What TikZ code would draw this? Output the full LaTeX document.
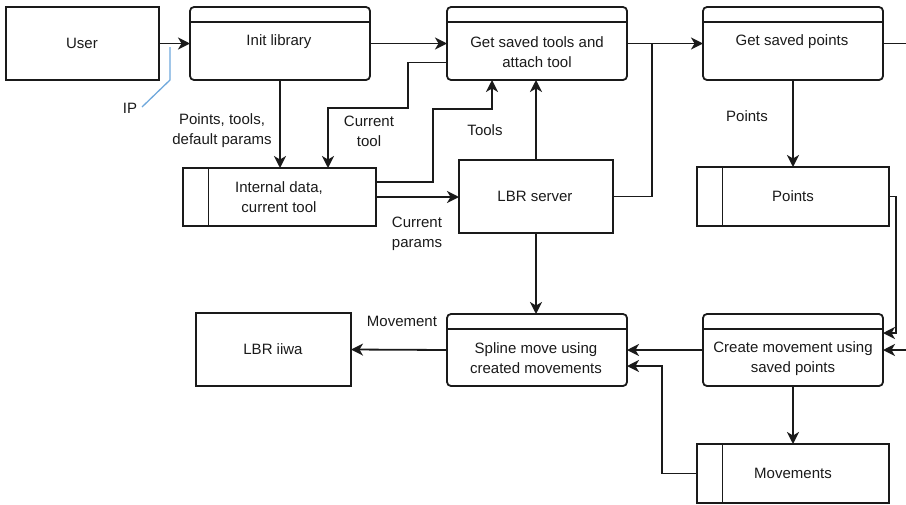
\documentclass[tikz,border=0pt]{standalone}
\usepackage{fontspec}
\setmainfont{Liberation Sans}
\usetikzlibrary{arrows.meta}
\definecolor{ink}{HTML}{1A1A1A}
\definecolor{ipblue}{HTML}{6FA8DC}
\begin{document}
\begin{tikzpicture}[x=1pt,y=-1pt,
  font=\fontsize{15}{20}\selectfont,
  every node/.style={text=ink},
  boxbase/.style={draw=ink,line width=1.8pt,inner sep=0pt,outer sep=0pt,anchor=north west},
  plainbox/.style={boxbase,rectangle},
  hdrbox/.style={boxbase,rounded corners=4pt},
  databox/.style={boxbase,rectangle},
  txt/.style={align=center,inner sep=0pt},
  wire/.style={draw=ink,line width=1.8pt},
  arr/.style={wire,-{Stealth[length=12pt,width=12pt,inset=3.5pt]}},
  ipline/.style={draw=ipblue,line width=1.3pt}]
\path[use as bounding box] (0,0) rectangle (906,504);

% boxes
\node[plainbox,minimum width=153pt,minimum height=73pt] (user) at (6,7) {};
\node[hdrbox,minimum width=180pt,minimum height=73pt] (init) at (190,7) {};
\node[hdrbox,minimum width=180pt,minimum height=73pt] (tools) at (447,7) {};
\node[hdrbox,minimum width=180pt,minimum height=73pt] (gsp) at (703,7) {};
\node[databox,minimum width=193pt,minimum height=58pt] (intdata) at (183,168) {};
\node[plainbox,minimum width=154pt,minimum height=73pt] (server) at (459,160) {};
\node[databox,minimum width=192pt,minimum height=59pt] (points) at (697,167) {};
\node[plainbox,minimum width=155pt,minimum height=73pt] (iiwa) at (196,313) {};
\node[hdrbox,minimum width=180pt,minimum height=72pt] (spline) at (447,314) {};
\node[hdrbox,minimum width=180pt,minimum height=72pt] (create) at (703,314) {};
\node[databox,minimum width=192pt,minimum height=59pt] (movs) at (697,444) {};

% header lines of the process boxes
\foreach \b in {init,tools,gsp,spline,create}
  \draw[draw=ink,line width=1.2pt] ([yshift=-15pt]\b.north west) -- ([yshift=-15pt]\b.north east);
% side bars of the data stores
\foreach \b in {intdata,points,movs}
  \draw[draw=ink,line width=1.8pt] ([xshift=25.5pt]\b.north west) -- ([xshift=25.5pt]\b.south west);

% box texts
\node[txt] (userT) at (82,43) {User};
\node[txt] (initT) at (279,42) {Init library};
\node[txt] (toolsT) at (537,52) {Get saved tools and\\attach tool};
\node[txt] (gspT) at (792,42) {Get saved points};
\node[txt] (intdataT) at (279,197) {Internal data,\\current tool};
\node[txt] (serverT) at (535,196) {LBR server};
\node[txt] (pointsT) at (793,196) {Points};
\node[txt] (iiwaT) at (273,349) {LBR iiwa};
\node[txt] (splineT) at (536,358.5) {Spline move using\\created movements};
\node[txt] (createT) at (793,358.5) {Create movement using\\saved points};
\node[txt] (movsT) at (793,473) {Movements};

% edge labels
\node[txt] (ipL) at (130,108) {IP};
\node[txt] (ptlL) at (222,131) {Points, tools,\\default params};
\node[txt] (ctL) at (369,131) {Current\\tool};
\node[txt] (toolL) at (485,130) {Tools};
\node[txt] (cpL) at (417,233.5) {Current\\params};
\node[txt] (ptsL) at (747,116) {Points};
\node[txt] (movL) at (402,321) {Movement};

% free ends at the right border
\coordinate (outTop) at (906,43.5);
\coordinate (inRight) at (906,350);

% connectors
\draw[arr] (user.east) -- (init.west);
\draw[ipline] (170,47) -- (170,80) -- (142,107);
\draw[arr] (init.east) -- (tools.west);
\draw[arr] (init.south) -- (init.south |- intdata.north);
\draw[arr] ([yshift=-19pt]tools.west) -| (408,108) -| ([xshift=48.5pt]intdata.north);
\draw[arr] ([yshift=15pt]intdata.east) -| (433,109) -| ([xshift=-45pt]tools.south);
\draw[arr] (intdata.east) -- (intdata.east -| server.west);
\draw[arr] (server.north) -- (server.north |- tools.south);
\draw[arr] (server.south) -- (server.south |- spline.north);
\draw[wire] (server.east) -| (652,43.5);
\draw[arr] (tools.east) -- (gsp.west);
\draw[wire] (gsp.east) -- (outTop);
\draw[arr] (gsp.south) -- (gsp.south |- points.north);
\draw[arr] (points.east) -| (896,333) -- ([yshift=17pt]create.east);
\draw[arr] (inRight) -- (create.east);
\draw[arr] (create.west) -- (spline.east);
\draw[arr] (spline.west) -- (iiwa.east);
\draw[arr] (create.south) -- (create.south |- movs.north);
\draw[arr] (movs.west) -| (662,366) -- ([yshift=-16pt]spline.east);
\end{tikzpicture}
\end{document}
